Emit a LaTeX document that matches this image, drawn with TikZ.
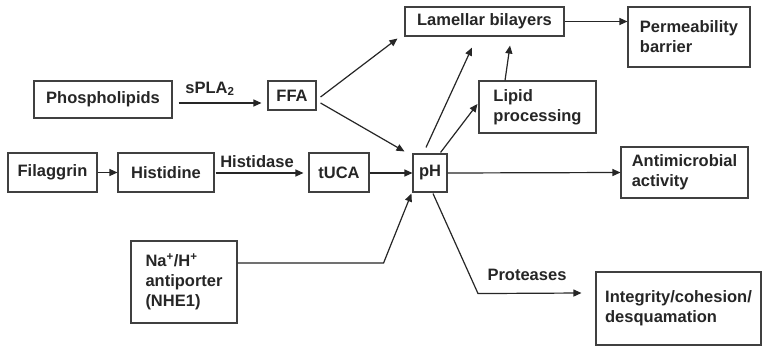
\documentclass[tikz,border=0pt]{standalone}
\usepackage{fontspec}
\setmainfont{Liberation Sans}
\usetikzlibrary{arrows.meta,calc}
\begin{document}
\begin{tikzpicture}[x=1pt,y=-1pt,
  every node/.style={font=\fontsize{16.5}{20}\selectfont\bfseries, text=black!85},
  box/.style={draw=black!75, line width=1.1pt, rectangle, inner sep=0pt, align=left},
  lbl/.style={inner sep=0pt},
  arr/.style={draw=black!85, line width=1.2pt, -{Triangle[length=8pt,width=7pt]}},
  ln/.style={draw=black!85, line width=1.2pt}]
\useasboundingbox[fill=white] (0,0) rectangle (762,348);
% boxes
\node[box, minimum width=138, minimum height=37] (phos) at (103,99.5) {Phospholipids};
\node[box, minimum width=48, minimum height=29] (ffa) at (292,95.5) {FFA};
\node[box, minimum width=89, minimum height=39] (fil) at (52.5,172.5) {Filaggrin};
\node[box, minimum width=96, minimum height=39] (his) at (166,172.5) {Histidine};
\node[box, minimum width=60, minimum height=39] (tuca) at (339,172.5) {tUCA};
\node[box, minimum width=34, minimum height=38] (ph) at (430,173) {pH};
\node[box, minimum width=159, minimum height=29] (lam) at (484.5,21.5) {Lamellar bilayers};
\node[box, minimum width=122, minimum height=60] (perm) at (689,37) {Permeability\\barrier};
\node[box, minimum width=117, minimum height=52] (lip) at (537.5,107) {Lipid\\processing};
\node[box, minimum width=127, minimum height=51] (anti) at (684.5,172.5) {Antimicrobial\\activity};
\node[box, minimum width=106, minimum height=82] (na) at (184,282) {Na\textsuperscript{+}/H\textsuperscript{+}\\antiporter\\(NHE1)};
\node[box, minimum width=165, minimum height=73] (integ) at (678.5,308.5) {Integrity/cohesion/\\desquamation};
% labels
\node[lbl] (spla) at (210,89) {sPLA\textsubscript{2}};
\node[lbl] (histidase) at (257,162) {Histidase};
\node[lbl] (prot) at (527,275) {Proteases};
% connectors
\draw[arr] ($(phos.east)+(6,3.5)$) -- ($(ffa.west)+(-6,7.5)$);
\draw[arr] (fil.east) -- (his.west);
\draw[arr] ($(his.east)+(1,0.5)$) -- ($(tuca.west)+(-5,0.5)$);
\draw[arr] ($(tuca.east)+(0,0.5)$) -- (ph.west);
\draw[arr] ($(ffa.east)+(4,1.5)$) -- ($(lam.south west)+(-7,2)$);
\draw[arr] ($(ffa.east)+(4,7.5)$) -- ($(ph.north west)+(-8,-2)$);
\draw[arr] ($(ph.north)+(-4,-6)$) -- ($(lam.south)+(-12.5,11)$);
\draw[arr] ($(ph.north east)+(-7,-1)$) -- ($(lip.west)+(-1,-3)$);
\draw[arr] ($(lip.north)+(-32.5,0)$) -- ($(lam.south)+(25.5,9)$);
\draw[arr] (lam.east) -- (lam.east -| perm.west);
\draw[arr] (ph.east) -- (anti.west);
\coordinate (nabend) at ($(na.east)+(146,-19)$);
\draw[arr] ($(na.east)+(0,-19)$) -- (nabend) -- ($(ph.south west)+(-1,1)$);
\coordinate (pbend) at ($(ph.south)+(48,101)$);
\draw[arr] ($(ph.south)+(3,1)$) -- (pbend) -- ($(integ.west)+(-14,-15.5)$);
\end{tikzpicture}
\end{document}
